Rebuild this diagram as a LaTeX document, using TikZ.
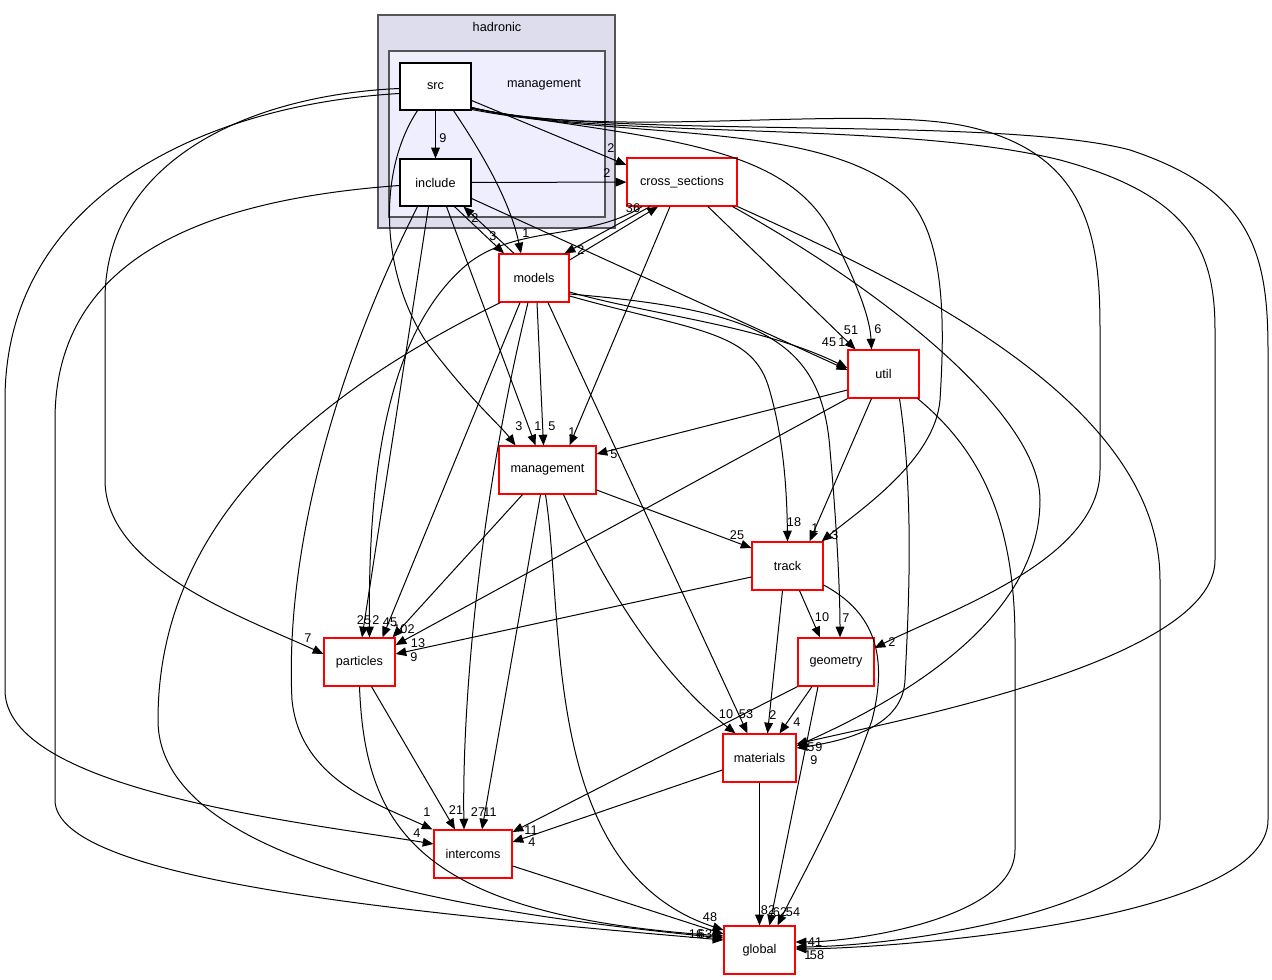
\documentclass[tikz,border=0pt]{standalone}
\usepackage{fontspec}
\setmainfont{Liberation Sans}
\usetikzlibrary{arrows.meta,calc}
\definecolor{clA}{HTML}{DDDDEE}
\definecolor{clB}{HTML}{EEEEFF}
\definecolor{clE}{HTML}{555555}
\definecolor{redb}{HTML}{FF0000}
\tikzset{
  box/.style={draw=redb, fill=white, line width=0.9pt, inner sep=0pt, minimum height=36pt, font=\fontsize{9.5}{11}\selectfont},
  dbox/.style={draw=black, fill=white, line width=0.9pt, inner sep=0pt, minimum height=35.25pt, minimum width=53.25pt, font=\fontsize{9.5}{11}\selectfont},
  dep/.style={draw=black, line width=0.75pt, -{Triangle[length=8pt,width=6.5pt]}},
  lab/.style={inner sep=0pt, font=\fontsize{9.5}{11}\selectfont},
  clus/.style={draw=clE, line width=0.9pt}
}
\begin{document}
\begin{tikzpicture}[x=0.75pt,y=-0.75pt]
\useasboundingbox (0,0) rectangle (1272,980);
\fill[white] (0,0) rectangle (1272,980);
% clusters
\draw[clus, fill=clA] (378,15) rectangle (615,228);
\node[lab] (lhad) at (497,27) {hadronic};
\draw[clus, fill=clB] (389,51) rectangle (605,217);
\node[lab] (lmgt) at (544,85) {management};
% nodes
\node[dbox] (src) at (435.5,86.5) {src};
\node[dbox] (include) at (435.5,182.5) {include};
\node[box, minimum width=82.5pt] (cs) at (682,182) {cross\_sections};
\node[box, minimum width=52.5pt] (models) at (534,278) {models};
\node[box, minimum width=53.25pt] (util) at (883.5,374) {util};
\node[box, minimum width=72.75pt] (mgmt) at (547.5,470) {management};
\node[box, minimum width=53.25pt] (track) at (787.5,566) {track};
\node[box, minimum width=57pt] (geometry) at (836,662) {geometry};
\node[box, minimum width=53.25pt] (particles) at (359.5,662) {particles};
\node[box, minimum width=54.75pt] (materials) at (759.5,758) {materials};
\node[box, minimum width=58.5pt] (intercoms) at (473,854) {intercoms};
\node[box, minimum width=53.25pt] (global) at (759.5,950) {global};

% src edges
\draw[dep] (src) -- (include);
\draw[dep] ($(src.east)+(0,14)$) -- ($(cs.west)+(0,-17)$);
\draw[dep] ($(src.south)+(18,0)$) .. controls (480,150) and (510,200) .. ($(models.north)+(-13,0)$);
\draw[dep] ($(src.south)+(-18,0)$) .. controls (378,170) and (380,270) .. (425,340) .. controls (470,400) and (500,425) .. ($(mgmt.north)+(-32,0)$);
\draw[dep] ($(src.west)+(0,2)$) .. controls (250,95) and (105,160) .. (105,300) -- (105,480) .. controls (105,570) and (250,620) .. ($(particles.west)+(0,-8)$);
\draw[dep] ($(src.west)+(0,7)$) .. controls (200,105) and (5,200) .. (5,400) -- (5,690) .. controls (5,790) and (300,822) .. ($(intercoms.west)+(0,-10)$);
\draw[dep] ($(src.east)+(0,22)$) .. controls (650,140) and (790,140) .. (835,240) .. controls (860,290) and (870,320) .. ($(util.north)+(-12,0)$);
\draw[dep] ($(src.east)+(0,23)$) .. controls (630,140) and (820,120) .. (905,195) .. controls (945,235) and (945,320) .. (940,400) .. controls (935,460) and (860,510) .. ($(track.north east)+(-2,0)$);
\draw[dep] ($(src.east)+(0,21)$) .. controls (600,140) and (850,105) .. (960,125) .. controls (1090,150) and (1100,240) .. (1100,330) -- (1100,470) .. controls (1100,560) and (950,610) .. ($(geometry.east)+(0,-14)$);
\draw[dep] ($(src.east)+(0,21)$) .. controls (600,140) and (900,120) .. (1060,160) .. controls (1190,195) and (1215,250) .. (1215,330) -- (1215,560) .. controls (1215,660) and (900,720) .. ($(materials.east)+(0,-14)$);
\draw[dep] ($(src.east)+(0,21)$) .. controls (600,140) and (1000,115) .. (1130,150) .. controls (1250,190) and (1268,250) .. (1268,350) -- (1268,820) .. controls (1268,920) and (900,948) .. ($(global.east)+(0,-1)$);

% include edges
\draw[dep] (include) -- (cs);
\draw[dep] ($(include.south)+(19,0)$) -- ($(models.north)+(-30,0)$);
\draw[dep] ($(include.south)+(11,0)$) -- ($(mgmt.north)+(-12,0)$);
\draw[dep] ($(include.south)+(-7,0)$) -- ($(particles.north)+(2.5,0)$);
\draw[dep] ($(include.south)+(-18,0)$) .. controls (330,380) and (285,560) .. (292,700) .. controls (300,780) and (380,805) .. ($(intercoms.north west)+(-1,0)$);
\draw[dep] ($(include.east)+(0,16)$) -- ($(util.west)+(0,-4)$);
\draw[dep] ($(include.west)+(0,3)$) .. controls (200,200) and (55,260) .. (55,420) -- (55,800) .. controls (55,880) and (400,912) .. ($(global.west)+(0,-10)$);

% cross_sections edges
\draw[dep] ($(cs.south)+(-32,0)$) -- ($(models.north east)+(-5,0)$);
\draw[dep] ($(cs.south)+(-12,0)$) -- ($(mgmt.north)+(22,0)$);
\draw[dep] ($(cs.south)+(26,0)$) -- ($(util.north)+(-28,0)$);
\draw[dep] ($(cs.south)+(-40,0)$) .. controls (590,240) and (520,225) .. (470,262) .. controls (385,330) and (368,480) .. ($(particles.north)+(10,0)$);
\draw[dep] ($(cs.south east)+(-5,0)$) .. controls (900,300) and (1040,420) .. (1040,500) .. controls (1040,620) and (900,700) .. ($(materials.east)+(0,-12)$);
\draw[dep] (cs.south east) .. controls (900,280) and (1160,400) .. (1160,580) -- (1160,820) .. controls (1160,910) and (900,946) .. ($(global.east)+(0,-3)$);

% models edges
\draw[dep] ($(models.north)+(-20,0)$) -- ($(include.south)+(28,0)$);
\draw[dep] ($(models.east)+(0,-18)$) -- ($(cs.south)+(-24,0)$);
\draw[dep] ($(models.south)+(3,0)$) -- ($(mgmt.north)+(-4,0)$);
\draw[dep] ($(models.east)+(0,14)$) .. controls (650,315) and (760,325) .. ($(util.west)+(0,-6)$);
\draw[dep] ($(models.east)+(0,18)$) .. controls (690,330) and (750,330) .. (768,385) .. controls (785,440) and (787,500) .. (track.north);
\draw[dep] ($(models.east)+(0,16)$) .. controls (760,310) and (822,340) .. (830,450) .. controls (838,540) and (840,600) .. ($(geometry.north)+(4,0)$);
\draw[dep] ($(models.south)+(14,0)$) -- ($(materials.north)+(-12,0)$);
\draw[dep] ($(models.south)+(-14,0)$) -- ($(particles.north)+(23,0)$);
\draw[dep] ($(models.south)+(-6,0)$) .. controls (480,500) and (462,700) .. ($(intercoms.north)+(-9,0)$);
\draw[dep] ($(models.south west)+(2,0)$) .. controls (260,420) and (158,560) .. (158,720) .. controls (158,870) and (500,916) .. ($(global.west)+(0,-12)$);

% util edges
\draw[dep] ($(util.west)+(0,16)$) -- ($(mgmt.east)+(0,-16)$);
\draw[dep] (util.south west) -- ($(particles.east)+(0,-17)$);
\draw[dep] ($(util.south)+(-12,0)$) -- ($(track.north)+(22,0)$);
\draw[dep] ($(util.south)+(16,0)$) .. controls (915,500) and (908,620) .. (905,680) .. controls (903,725) and (850,740) .. ($(materials.east)+(0,-10)$);
\draw[dep] ($(util.south east)+(-2,0)$) .. controls (980,450) and (1015,520) .. (1015,640) -- (1015,850) .. controls (1015,920) and (850,942) .. ($(global.east)+(0,-8)$);

% management edges
\draw[dep] ($(mgmt.east)+(0,20)$) -- ($(track.west)+(0,-18)$);
\draw[dep] ($(mgmt.south)+(-25,0)$) -- ($(particles.north east)+(-3,0)$);
\draw[dep] ($(mgmt.south)+(-7,0)$) -- ($(intercoms.north)+(9,0)$);
\draw[dep] ($(mgmt.south)+(16,0)$) .. controls (620,620) and (680,690) .. ($(materials.north)+(-24,0)$);
\draw[dep] ($(mgmt.south)+(-2,0)$) .. controls (565,620) and (540,870) .. ($(global.west)+(0,-20)$);

% track edges
\draw[dep] ($(track.west)+(0,11)$) -- ($(particles.east)+(0,-8)$);
\draw[dep] ($(track.south)+(12,0)$) -- ($(geometry.north)+(-16,0)$);
\draw[dep] ($(track.south)+(-5,0)$) -- ($(materials.north)+(8,0)$);
\draw[dep] ($(track.east)+(0,19)$) .. controls (870,610) and (890,650) .. (872,720) .. controls (845,800) and (800,880) .. ($(global.north)+(18,0)$);

% geometry edges
\draw[dep] ($(geometry.south)+(-24,0)$) -- ($(materials.north)+(20,0)$);
\draw[dep] ($(geometry.south)+(-18,0)$) -- ($(global.north)+(10,0)$);
\draw[dep] (geometry.south west) -- ($(intercoms.east)+(0,-22)$);

% particles edges
\draw[dep] ($(particles.south)+(12,0)$) -- ($(intercoms.north)+(-18,0)$);
\draw[dep] (particles.south) .. controls (365,830) and (420,915) .. ($(global.west)+(0,-14)$);

% materials, intercoms
\draw[dep] ($(materials.west)+(0,12)$) -- ($(intercoms.east)+(0,-12)$);
\draw[dep] (materials) -- (global);
\draw[dep] ($(intercoms.east)+(0,12)$) -- ($(global.west)+(0,-16)$);

% labels
\node[lab] (l1) at (443,138) {9};
\node[lab] (l2) at (611,148) {2};
\node[lab] (l3) at (607,173) {2};
\node[lab] (l4) at (526,233) {1};
\node[lab] (l5) at (493,236) {3};
\node[lab] (l6) at (475,218) {2};
\node[lab] (l7) at (633,208) {36};
\node[lab] (l8) at (581,250) {2};
\node[lab] (l9) at (519,426) {3};
\node[lab] (l10) at (538,426) {1};
\node[lab] (l11) at (552,426) {5};
\node[lab] (l12) at (572,432) {1};
\node[lab] (l13) at (614,454) {5};
\node[lab] (l14) at (829,342) {45};
\node[lab] (l15) at (842,342) {1};
\node[lab] (l16) at (851,330) {51};
\node[lab] (l17) at (878,329) {6};
\node[lab] (l18) at (737,535) {25};
\node[lab] (l19) at (794,522) {18};
\node[lab] (l20) at (815,528) {1};
\node[lab] (l21) at (835,535) {3};
\node[lab] (l22) at (822,617) {10};
\node[lab] (l23) at (846,618) {7};
\node[lab] (l24) at (892,642) {2};
\node[lab] (l25) at (308,638) {7};
\node[lab] (l26) at (364,620) {25};
\node[lab] (l27) at (376,620) {2};
\node[lab] (l28) at (390,622) {45};
\node[lab] (l29) at (404,629) {102};
\node[lab] (l30) at (418,643) {13};
\node[lab] (l31) at (414,657) {9};
\node[lab] (l32) at (726,714) {10};
\node[lab] (l33) at (746,714) {53};
\node[lab] (l34) at (773,715) {2};
\node[lab] (l35) at (797,722) {4};
\node[lab] (l36) at (811,747) {5};
\node[lab] (l37) at (819,747) {9};
\node[lab] (l38) at (814,760) {9};
\node[lab] (l39) at (427,812) {1};
\node[lab] (l40) at (456,810) {21};
\node[lab] (l41) at (478,812) {27};
\node[lab] (l42) at (490,812) {11};
\node[lab] (l43) at (417,833) {4};
\node[lab] (l44) at (531,830) {11};
\node[lab] (l45) at (532,842) {4};
\node[lab] (l46) at (710,917) {48};
\node[lab] (l48) at (696,934) {16};
\node[lab] (l49) at (705,934) {63};
\node[lab] (l51) at (768,910) {82};
\node[lab] (l52) at (780,912) {62};
\node[lab] (l53) at (793,912) {54};
\node[lab] (l54) at (815,942) {41};
\node[lab] (l55) at (808,955) {1};
\node[lab] (l56) at (817,955) {58};
\end{tikzpicture}
\end{document}
